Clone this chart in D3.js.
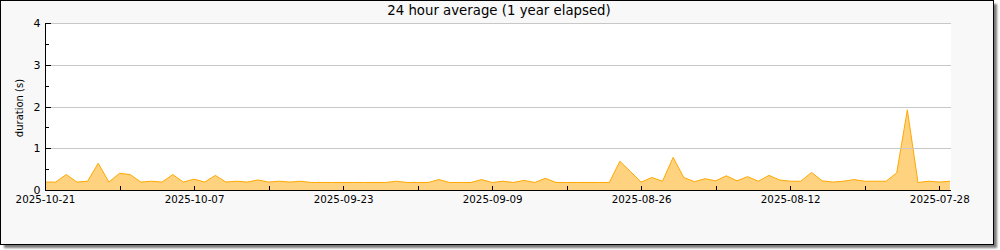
<!DOCTYPE html>
<html>
<head>
<meta charset="utf-8">
<script src="https://cdn.jsdelivr.net/npm/d3@7"></script>
<style>
  html, body { margin: 0; padding: 0; background: #ffffff; }
  svg { display: block; }
  text { font-family: "DejaVu Sans", sans-serif; fill: #000; }
</style>
</head>
<body>
<svg id="chart" width="1000" height="250"></svg>
<script>
// ---- data (index = days before 2025-10-21) ----
const title = "24 hour average (1 year elapsed)";
const yLabel = "duration (s)";
const values = [
  0.19, 0.19, 0.37, 0.19, 0.21, 0.64, 0.19, 0.40, 0.37, 0.19,
  0.21, 0.19, 0.37, 0.19, 0.26, 0.19, 0.35, 0.19, 0.21, 0.19,
  0.24, 0.19, 0.21, 0.19, 0.21, 0.18, 0.18, 0.18, 0.18, 0.18,
  0.18, 0.18, 0.18, 0.21, 0.18, 0.18, 0.18, 0.25, 0.18, 0.18,
  0.18, 0.25, 0.18, 0.21, 0.18, 0.23, 0.18, 0.28, 0.18, 0.18,
  0.18, 0.18, 0.18, 0.18, 0.69, 0.44, 0.19, 0.30, 0.21, 0.78,
  0.30, 0.20, 0.27, 0.22, 0.34, 0.22, 0.32, 0.21, 0.35, 0.24,
  0.21, 0.21, 0.42, 0.22, 0.19, 0.21, 0.25, 0.21, 0.21, 0.21,
  0.41, 1.92, 0.18, 0.21, 0.19, 0.21
];
const xTickDays = [0, 14, 28, 42, 56, 70, 84];
const xTickLabels = ["2025-10-21", "2025-10-07", "2025-09-23", "2025-09-09", "2025-08-26", "2025-08-12", "2025-07-28"];
const xMinorDays = [7, 21, 35, 49, 63, 77];
const yTicks = [0, 1, 2, 3, 4];
const yMinorTicks = [0.5, 1.5, 2.5, 3.5];

// ---- layout ----
const svg = d3.select("#chart");
const plot = { left: 45, right: 951, top: 23, bottom: 190 };

const x = d3.scaleLinear().domain([0, 85.1]).range([plot.left, plot.right]);
const y = d3.scaleLinear().domain([0, 4]).range([plot.bottom, plot.top]);

// shadow + frame
const defs = svg.append("defs");
const f = defs.append("filter").attr("id", "blur").attr("x", "-5%").attr("y", "-5%").attr("width", "110%").attr("height", "120%");
f.append("feGaussianBlur").attr("stdDeviation", 1.0);
svg.append("rect").attr("x", 4).attr("y", 4).attr("width", 993).attr("height", 244)
  .attr("fill", "#7a7a7a").attr("filter", "url(#blur)");
svg.append("rect").attr("x", 0.5).attr("y", 0.5).attr("width", 993).attr("height", 244)
  .attr("fill", "#f8f8f8").attr("stroke", "#000").attr("stroke-width", 1);

// plot background
svg.append("rect").attr("x", plot.left).attr("y", plot.top)
  .attr("width", plot.right - plot.left).attr("height", plot.bottom - plot.top)
  .attr("fill", "#ffffff");

// area
const area = d3.area()
  .x((d, i) => x(i))
  .y0(y(0))
  .y1(d => y(d));
const line = d3.line()
  .x((d, i) => x(i))
  .y(d => y(d));

svg.append("path").datum(values).attr("d", area).attr("fill", "#ffd280");
svg.append("path").datum(values).attr("d", line)
  .attr("fill", "none").attr("stroke", "#ffa800").attr("stroke-width", 1);

// grid lines (drawn over the fill)
svg.append("g").selectAll("line").data(yTicks.filter(d => d > 0)).join("line")
  .attr("x1", plot.left).attr("x2", plot.right)
  .attr("y1", d => Math.round(y(d)) + 0.5).attr("y2", d => Math.round(y(d)) + 0.5)
  .attr("stroke", "#c8c8c8").attr("stroke-width", 1);

// y axis
const yAxis = d3.axisLeft(y).tickValues(yTicks).tickFormat(d3.format("d"))
  .tickSize(-5).tickPadding(5);
const gy = svg.append("g").attr("transform", `translate(${plot.left + 0.5},0)`).call(yAxis);
gy.select(".domain").attr("d", `M0,${plot.top}V${plot.bottom + 0.5}`);
gy.selectAll("text").style("font-size", "11px").style("font-family", "DejaVu Sans");
const yMinor = d3.axisLeft(y).tickValues(yMinorTicks).tickFormat("").tickSize(-3);
const gym = svg.append("g").attr("transform", `translate(${plot.left + 0.5},0)`).call(yMinor);
gym.select(".domain").remove();

// x axis
const xAxis = d3.axisBottom(x).tickValues(xTickDays)
  .tickFormat((d, i) => xTickLabels[i]).tickSize(-5).tickPadding(5);
const gx = svg.append("g").attr("transform", `translate(0,${plot.bottom + 0.5})`).call(xAxis);
gx.select(".domain").attr("d", `M${plot.left},0H${plot.right}`);
gx.selectAll("text").style("font-size", "10.3px").style("font-family", "DejaVu Sans");
const xMinor = d3.axisBottom(x).tickValues(xMinorDays).tickFormat("").tickSize(-5);
const gxm = svg.append("g").attr("transform", `translate(0,${plot.bottom + 0.5})`).call(xMinor);
gxm.select(".domain").remove();

svg.selectAll(".tick line").attr("shape-rendering", "crispEdges");
svg.selectAll(".domain").attr("shape-rendering", "crispEdges");

// title
svg.append("text").attr("x", 499).attr("y", 15).attr("text-anchor", "middle")
  .style("font-size", "13.3px").text(title);

// y label
svg.append("text").attr("transform", "translate(23,108) rotate(-90)")
  .attr("text-anchor", "middle").style("font-size", "10px").text(yLabel);
</script>
</body>
</html>
